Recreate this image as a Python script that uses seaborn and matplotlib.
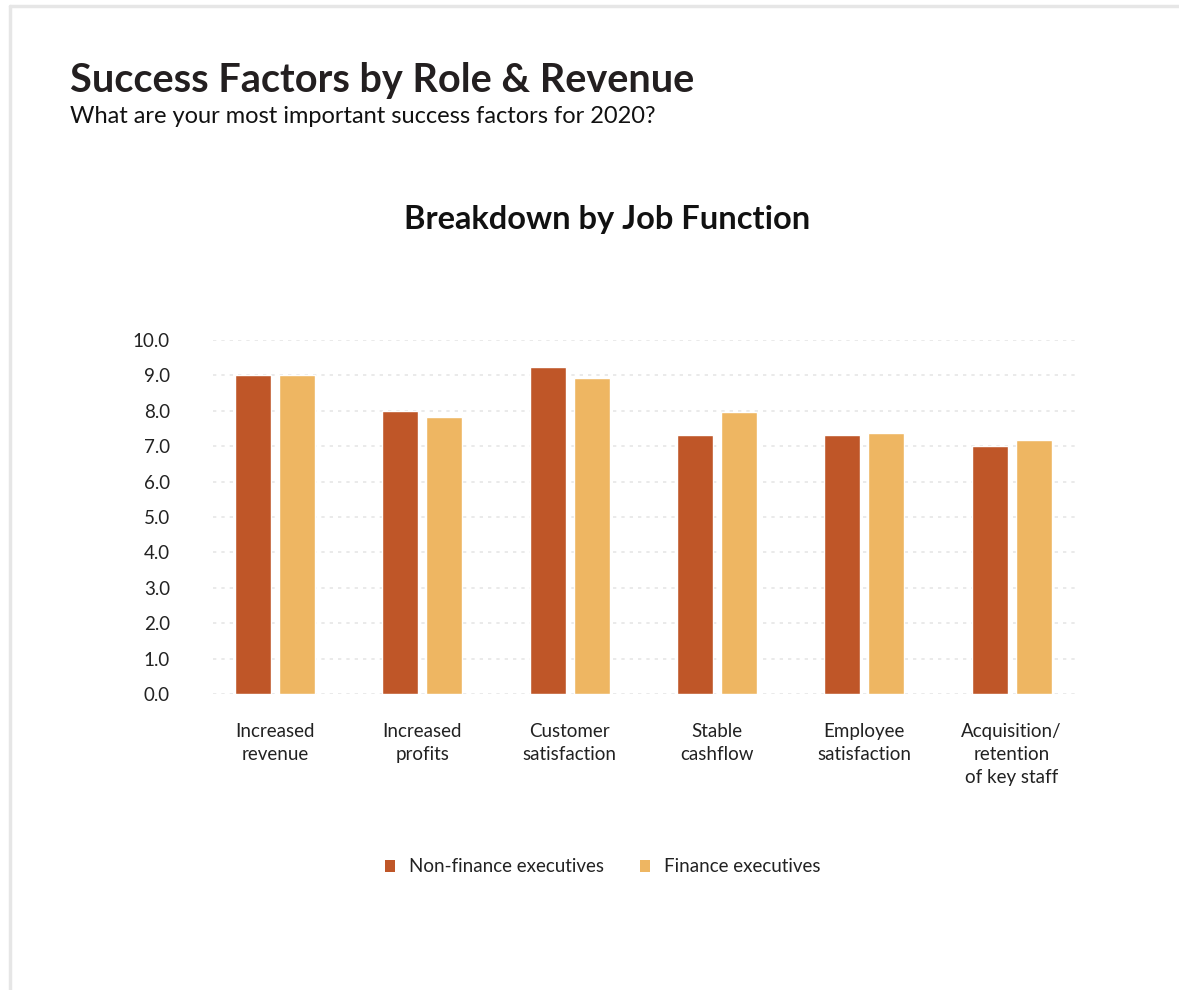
import matplotlib
matplotlib.use("Agg")
import matplotlib.pyplot as plt
from matplotlib.lines import Line2D
from matplotlib.patches import Patch
import pandas as pd
import seaborn as sns

# Survey scores by success factor and respondent group
categories = [
    "Increased\nrevenue",
    "Increased\nprofits",
    "Customer\nsatisfaction",
    "Stable\ncashflow",
    "Employee\nsatisfaction",
    "Acquisition/\nretention\nof key staff",
]
non_finance = [9.0, 8.0, 9.23, 7.31, 7.31, 7.0]
finance = [9.0, 7.82, 8.93, 7.97, 7.37, 7.17]
groups = ["Non-finance executives", "Finance executives"]
colors = ["#BF5628", "#EEB662"]
y_ticks = [0, 1, 2, 3, 4, 5, 6, 7, 8, 9, 10]

df = pd.DataFrame({
    "factor": categories * 2,
    "score": non_finance + finance,
    "group": [groups[0]] * len(categories) + [groups[1]] * len(categories),
})

sns.set_theme(style="white")
plt.rcParams["font.family"] = ["Lato", "DejaVu Sans"]

fig = plt.figure(figsize=(11.79, 9.9), dpi=100)
fig.patch.set_facecolor("white")
ax = fig.add_axes([0.1807, 0.2990, 0.7311, 0.3576])

sns.barplot(
    data=df, x="factor", y="score", hue="group",
    palette=colors, width=0.597, gap=0.18, ax=ax,
    legend=False, saturation=1, errorbar=None,
)

ax.set_xlim(-0.42, 5.43)
ax.set_ylim(0, 10)
ax.set_yticks(y_ticks)
ax.set_yticklabels([f"{v:.1f}" for v in y_ticks])
ax.set_xlabel("")
ax.set_ylabel("")
ax.yaxis.grid(True, color="#e6e6e6", linestyle=(0, (2, 3)), linewidth=1.2)
ax.set_axisbelow(True)
for s in ax.spines.values():
    s.set_visible(False)
ax.tick_params(axis="y", length=0, pad=31, labelsize=13.5, labelcolor="#222222")
ax.tick_params(axis="x", length=0, pad=21, labelsize=13.5, labelcolor="#222222")
for lbl in ax.get_xticklabels():
    lbl.set_linespacing(1.42)

# Headings
fig.text(70 / 1179, 1 - 92 / 990, "Success Factors by Role & Revenue",
         fontsize=28.5, fontweight="bold", color="#231f20", va="baseline", ha="left")
fig.text(70 / 1179, 1 - 123 / 990, "What are your most important success factors for 2020?",
         fontsize=17, color="#111111", va="baseline", ha="left")
fig.text(607 / 1179, 1 - 229 / 990, "Breakdown by Job Function",
         fontsize=23.5, fontweight="bold", color="#111111", va="baseline", ha="center")

# Legend below the chart
handles = [Patch(facecolor=c, edgecolor="none") for c in colors]
fig.legend(handles, groups, loc="center", bbox_to_anchor=(603 / 1179, 1 - 867 / 990),
           ncol=2, frameon=False, fontsize=13.5, handlelength=0.55, handleheight=0.55,
           handletextpad=0.75, columnspacing=1.9, labelcolor="#222222")

# Light frame along the top and left edges
fig.add_artist(Line2D([10 / 1179, 1], [1 - 6 / 990, 1 - 6 / 990],
                      transform=fig.transFigure, color="#e6e6e6", linewidth=2.5))
fig.add_artist(Line2D([10 / 1179, 10 / 1179], [0, 1 - 6 / 990],
                      transform=fig.transFigure, color="#e6e6e6", linewidth=2.5))

fig.savefig("out.png", dpi=100, facecolor="white")
